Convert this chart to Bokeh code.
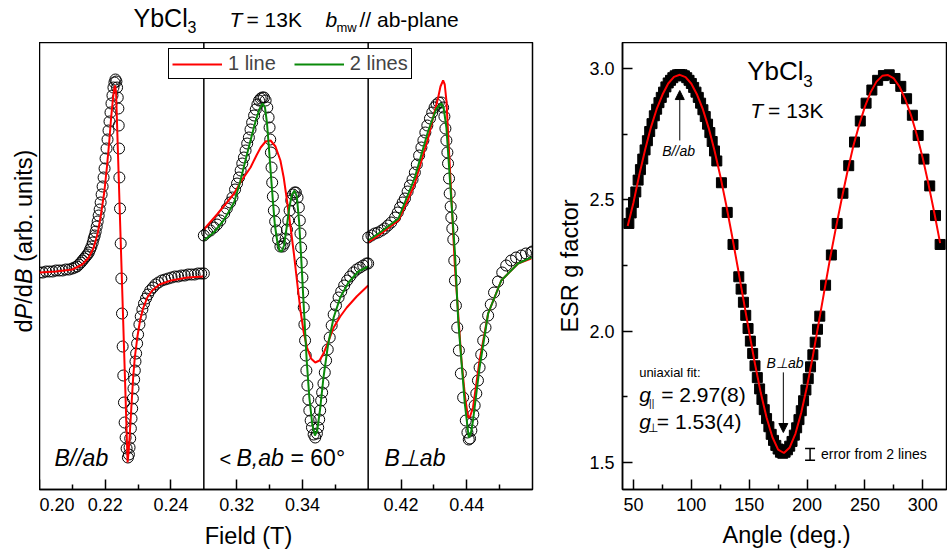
import math
from bokeh.plotting import figure
from bokeh.layouts import row, column
from bokeh.models import (Range1d, FixedTicker, Span, Label, Legend, LegendItem,
                          Arrow, NormalHead, Whisker, TeeHead, ColumnDataSource,
                          CustomJSTickFormatter, PrintfTickFormatter)
from bokeh.embed import file_html
from bokeh.resources import INLINE

FONT = "Liberation Sans"

# ------------------------------------------------------------------ data
panel_windows = [(0.20, 0.25), (0.31, 0.36), (0.41, 0.46)]
panel_major = [[0.20, 0.22, 0.24], [0.32, 0.34], [0.42, 0.44]]
panel_minor = [[0.21, 0.23], [0.33, 0.35], [0.43, 0.45]]

# panel 1 : B // ab
p1_field = [0.2000, 0.2010, 0.2020, 0.2030, 0.2040, 0.2050, 0.2060, 0.2070, 0.2080, 0.2090,
            0.2100, 0.2107, 0.2114, 0.2120, 0.2126, 0.2131, 0.2136, 0.2141, 0.2146, 0.2150,
            0.2154, 0.2158, 0.2162, 0.2165, 0.2168, 0.2171, 0.2174, 0.2177, 0.2180, 0.2183,
            0.2186, 0.2189, 0.2192, 0.2195, 0.2198, 0.2201, 0.2204, 0.2207, 0.2210, 0.2213,
            0.2216, 0.2219, 0.2222, 0.2225, 0.2228, 0.2231, 0.2234, 0.2236, 0.2238, 0.2240,
            0.2241, 0.2242, 0.2243, 0.2245, 0.2247, 0.2249, 0.2251, 0.2253, 0.2255, 0.2257,
            0.2259, 0.2262, 0.2265, 0.2269, 0.2272, 0.2274, 0.2276, 0.2278, 0.2280, 0.2282,
            0.2284, 0.2286, 0.2288, 0.2290, 0.2292, 0.2294, 0.2297, 0.2300, 0.2304, 0.2308,
            0.2313, 0.2318, 0.2324, 0.2330, 0.2337, 0.2345, 0.2353, 0.2362, 0.2372, 0.2382,
            0.2392, 0.2402, 0.2412, 0.2422, 0.2432, 0.2442, 0.2452, 0.2462, 0.2472, 0.2482,
            0.2492, 0.2500]
p1_signal = [0.00, 0.00, 0.01, 0.01, 0.01, 0.02, 0.02, 0.02, 0.03, 0.03,
             0.04, 0.05, 0.06, 0.08, 0.10, 0.12, 0.14, 0.16, 0.18, 0.20,
             0.23, 0.26, 0.30, 0.34, 0.37, 0.41, 0.46, 0.51, 0.57, 0.63,
             0.70, 0.78, 0.86, 0.95, 1.04, 1.14, 1.24, 1.33, 1.42, 1.51,
             1.60, 1.69, 1.77, 1.85, 1.90, 1.93, 1.91, 1.85, 1.75, 1.64,
             1.47, 1.24, 0.95, 0.64, 0.29, -0.06, -0.41, -0.74, -1.03, -1.30,
             -1.50, -1.65, -1.76, -1.85, -1.82, -1.75, -1.66, -1.56, -1.46, -1.36,
             -1.26, -1.16, -1.07, -0.98, -0.89, -0.81, -0.71, -0.62, -0.52, -0.44,
             -0.37, -0.31, -0.26, -0.22, -0.18, -0.15, -0.12, -0.10, -0.08, -0.07,
             -0.06, -0.05, -0.04, -0.04, -0.03, -0.03, -0.02, -0.02, -0.02, -0.01,
             -0.01, -0.01]
p1_fit1_field = [0.2000, 0.2050, 0.2100, 0.2130, 0.2150, 0.2165, 0.2177, 0.2187, 0.2197, 0.2205,
                 0.2212, 0.2218, 0.2223, 0.2227, 0.2230, 0.2233, 0.2268, 0.2271, 0.2275, 0.2280,
                 0.2285, 0.2290, 0.2298, 0.2306, 0.2315, 0.2328, 0.2343, 0.2365, 0.2400, 0.2450,
                 0.2500]
p1_fit1 = [0.00, 0.01, 0.03, 0.08, 0.15, 0.25, 0.39, 0.58, 0.80, 1.05,
           1.30, 1.55, 1.72, 1.83, 1.87, 1.80, -1.90, -1.80, -1.60, -1.32,
           -1.05, -0.85, -0.64, -0.48, -0.36, -0.25, -0.18, -0.12, -0.08, -0.05,
           -0.04]

# panel 2 : angle(B, ab) = 60 deg
p2_field = [0.3100, 0.3110, 0.3120, 0.3131, 0.3140, 0.3150, 0.3162, 0.3170, 0.3180, 0.3187,
            0.3195, 0.3201, 0.3207, 0.3212, 0.3217, 0.3222, 0.3227, 0.3232, 0.3237, 0.3242,
            0.3247, 0.3253, 0.3258, 0.3263, 0.3268, 0.3273, 0.3278, 0.3283, 0.3288, 0.3293,
            0.3297, 0.3300, 0.3302, 0.3304, 0.3306, 0.3308, 0.3310, 0.3313, 0.3317, 0.3321,
            0.3326, 0.3333, 0.3340, 0.3345, 0.3349, 0.3353, 0.3357, 0.3361, 0.3366, 0.3371,
            0.3376, 0.3380, 0.3385, 0.3389, 0.3392, 0.3394, 0.3396, 0.3398, 0.3400, 0.3402,
            0.3404, 0.3406, 0.3408, 0.3410, 0.3412, 0.3415, 0.3418, 0.3421, 0.3425, 0.3429,
            0.3434, 0.3439, 0.3444, 0.3448, 0.3451, 0.3454, 0.3457, 0.3460, 0.3464, 0.3468,
            0.3472, 0.3477, 0.3483, 0.3489, 0.3495, 0.3502, 0.3510, 0.3518, 0.3527, 0.3536,
            0.3545, 0.3555, 0.3565, 0.3575, 0.3585, 0.3595, 0.3600]
p2_signal = [0.37, 0.40, 0.42, 0.45, 0.48, 0.52, 0.59, 0.64, 0.70, 0.75,
             0.83, 0.89, 0.95, 1.02, 1.09, 1.15, 1.22, 1.29, 1.35, 1.43,
             1.50, 1.57, 1.63, 1.68, 1.72, 1.74, 1.75, 1.75, 1.72, 1.65,
             1.55, 1.45, 1.33, 1.20, 1.05, 0.90, 0.76, 0.62, 0.51, 0.42,
             0.33, 0.26, 0.26, 0.29, 0.34, 0.43, 0.52, 0.62, 0.72, 0.78,
             0.80, 0.80, 0.75, 0.65, 0.52, 0.39, 0.25, 0.10, -0.05, -0.20,
             -0.35, -0.52, -0.68, -0.83, -0.98, -1.13, -1.27, -1.38, -1.48, -1.55,
             -1.62, -1.65, -1.61, -1.55, -1.47, -1.38, -1.28, -1.20, -1.11, -1.00,
             -0.88, -0.77, -0.65, -0.53, -0.42, -0.33, -0.25, -0.19, -0.13, -0.08,
             -0.04, 0.00, 0.03, 0.05, 0.07, 0.09, 0.09]
p2_fit1_field = [0.3100, 0.3140, 0.3170, 0.3192, 0.3215, 0.3242, 0.3260, 0.3273, 0.3288, 0.3303,
                 0.3318, 0.3333, 0.3343, 0.3353, 0.3364, 0.3374, 0.3384, 0.3394, 0.3404, 0.3414,
                 0.3426, 0.3439, 0.3452, 0.3464, 0.3480, 0.3495, 0.3515, 0.3535, 0.3565, 0.3600]
p2_fit1 = [0.43, 0.58, 0.70, 0.79, 0.92, 1.05, 1.17, 1.25, 1.31, 1.32,
           1.26, 1.12, 0.95, 0.72, 0.45, 0.19, -0.10, -0.38, -0.60, -0.75,
           -0.86, -0.90, -0.88, -0.81, -0.68, -0.55, -0.44, -0.35, -0.24, -0.13]
p2_fit2_field = [0.3100, 0.3130, 0.3160, 0.3180, 0.3192, 0.3210, 0.3225, 0.3242, 0.3258, 0.3270,
                 0.3279, 0.3286, 0.3292, 0.3298, 0.3304, 0.3310, 0.3316, 0.3323, 0.3330, 0.3337,
                 0.3344, 0.3352, 0.3360, 0.3368, 0.3376, 0.3383, 0.3390, 0.3397, 0.3405, 0.3413,
                 0.3421, 0.3430, 0.3438, 0.3445, 0.3454, 0.3464, 0.3478, 0.3495, 0.3515, 0.3540,
                 0.3570, 0.3600]
p2_fit2 = [0.32, 0.40, 0.52, 0.63, 0.70, 0.90, 1.10, 1.32, 1.52, 1.64,
           1.69, 1.65, 1.50, 1.25, 0.98, 0.72, 0.48, 0.32, 0.22, 0.21,
           0.27, 0.45, 0.65, 0.78, 0.82, 0.76, 0.50, 0.10, -0.40, -0.88,
           -1.25, -1.52, -1.63, -1.58, -1.36, -1.05, -0.72, -0.45, -0.25, -0.10,
           0.01, 0.06]

# panel 3 : B perp ab
p3_field = [0.4100, 0.4110, 0.4120, 0.4130, 0.4141, 0.4150, 0.4160, 0.4170, 0.4182, 0.4190,
            0.4197, 0.4205, 0.4212, 0.4220, 0.4227, 0.4235, 0.4242, 0.4248, 0.4255, 0.4262,
            0.4268, 0.4274, 0.4280, 0.4288, 0.4295, 0.4302, 0.4308, 0.4315, 0.4323, 0.4328,
            0.4332, 0.4335, 0.4338, 0.4341, 0.4343, 0.4346, 0.4348, 0.4351, 0.4353, 0.4356,
            0.4359, 0.4362, 0.4364, 0.4367, 0.4371, 0.4376, 0.4382, 0.4389, 0.4397, 0.4402,
            0.4406, 0.4410, 0.4414, 0.4417, 0.4420, 0.4424, 0.4429, 0.4434, 0.4439, 0.4444,
            0.4450, 0.4457, 0.4465, 0.4473, 0.4483, 0.4495, 0.4508, 0.4520, 0.4535, 0.4550,
            0.4566, 0.4580, 0.4596, 0.4600]
p3_signal = [0.35, 0.37, 0.39, 0.40, 0.42, 0.44, 0.47, 0.50, 0.55, 0.60,
             0.65, 0.70, 0.74, 0.81, 0.87, 0.93, 1.00, 1.08, 1.17, 1.25,
             1.32, 1.40, 1.47, 1.54, 1.60, 1.65, 1.68, 1.70, 1.70, 1.65,
             1.56, 1.44, 1.32, 1.20, 1.09, 0.94, 0.79, 0.66, 0.55, 0.44,
             0.33, 0.12, -0.08, -0.33, -0.55, -0.78, -1.01, -1.25, -1.48, -1.60,
             -1.67, -1.66, -1.58, -1.50, -1.42, -1.33, -1.21, -1.08, -0.95, -0.82,
             -0.68, -0.55, -0.43, -0.32, -0.20, -0.09, 0.00, 0.07, 0.12, 0.15,
             0.17, 0.19, 0.20, 0.21]
p3_fit1_field = [0.4100, 0.4140, 0.4192, 0.4220, 0.4242, 0.4265, 0.4283, 0.4300, 0.4313, 0.4320,
                 0.4328, 0.4333, 0.4338, 0.4348, 0.4364, 0.4384, 0.4395, 0.4404, 0.4410, 0.4419,
                 0.4439, 0.4465, 0.4505, 0.4556, 0.4596]
p3_fit1 = [0.30, 0.39, 0.52, 0.72, 0.89, 1.15, 1.35, 1.58, 1.75, 1.86,
           1.92, 1.88, 1.72, 1.09, 0.05, -0.88, -1.25, -1.45, -1.44, -1.35,
           -0.88, -0.41, -0.08, 0.09, 0.14]
p3_fit2_field = [0.4100, 0.4140, 0.4192, 0.4242, 0.4283, 0.4308, 0.4323, 0.4330, 0.4338, 0.4353,
                 0.4364, 0.4374, 0.4394, 0.4406, 0.4413, 0.4419, 0.4439, 0.4465, 0.4505, 0.4556,
                 0.4596]
p3_fit2 = [0.32, 0.41, 0.54, 0.95, 1.42, 1.64, 1.69, 1.64, 1.45, 0.72,
           0.20, -0.48, -1.31, -1.65, -1.60, -1.48, -0.95, -0.41, -0.08, 0.09,
           0.15]

# angular dependence of the g factor
angle_obs = [46, 48, 50, 52, 54, 56, 58, 60, 62, 64, 66, 68, 70, 72, 74, 76, 78, 80, 82, 84,
             86, 88, 90, 92, 94, 96, 98, 100, 102, 104, 106, 108, 110, 112, 114, 116, 118, 120, 122,
             126, 131, 136, 141,
             143, 145, 147, 149, 151, 153, 155, 157, 159, 161, 163, 165, 167, 169, 171, 173, 175,
             177, 179, 181, 183, 185, 187, 189, 191, 193, 195, 197, 199, 201, 203, 205, 207, 209, 211,
             216, 221, 226, 231, 236, 241, 246, 251, 256, 261, 266, 271, 276, 281, 286, 291, 296,
             301, 306, 311, 315]
g_obs = [2.41, 2.45, 2.49, 2.53, 2.575, 2.615, 2.655, 2.69, 2.725, 2.76, 2.79, 2.82, 2.845, 2.87,
         2.89, 2.91, 2.93, 2.945, 2.955, 2.965, 2.972, 2.976, 2.977, 2.976, 2.972, 2.965, 2.955,
         2.943, 2.928, 2.91, 2.89, 2.868, 2.843, 2.817, 2.788, 2.756, 2.722, 2.686, 2.648,
         2.565, 2.452, 2.33, 2.207,
         2.16, 2.11, 2.06, 2.01, 1.962, 1.915, 1.868, 1.823, 1.78, 1.74, 1.701, 1.667, 1.636,
         1.607, 1.584, 1.565, 1.551, 1.539, 1.535, 1.539, 1.548, 1.562, 1.58, 1.604, 1.632,
         1.663, 1.697, 1.735, 1.776, 1.819, 1.864, 1.91, 1.958, 2.007, 2.057,
         2.175, 2.29, 2.41, 2.525, 2.63, 2.72, 2.80, 2.868, 2.918, 2.955, 2.973, 2.976, 2.962,
         2.932, 2.885, 2.822, 2.745, 2.655, 2.553, 2.44, 2.33]
angle_fit = [45, 50, 55, 60, 65, 70, 75, 80, 85, 90, 95, 100, 105, 110, 115, 120, 125, 130, 135,
             140, 145, 150, 155, 160, 165, 170, 175, 180, 185, 190, 195, 200, 205, 210, 215, 220,
             225, 230, 235, 240, 245, 250, 255, 260, 265, 270, 275, 280, 285, 290, 295, 300, 305,
             310, 315]
g_fit = [2.40, 2.49, 2.595, 2.69, 2.775, 2.845, 2.90, 2.943, 2.968, 2.976, 2.967, 2.942, 2.90,
         2.844, 2.773, 2.688, 2.591, 2.483, 2.367, 2.245, 2.12, 1.995, 1.875, 1.765, 1.671, 1.597,
         1.549, 1.536, 1.557, 1.61, 1.69, 1.79, 1.905, 2.03, 2.155, 2.28, 2.395, 2.505, 2.61,
         2.705, 2.785, 2.855, 2.91, 2.95, 2.972, 2.975, 2.962, 2.93, 2.882, 2.82, 2.745, 2.658,
         2.558, 2.45, 2.335]
err_angle = [202.6]
err_low = [1.508]
err_high = [1.553]

# ------------------------------------------------------------------ helpers
def txt(p, x, y, text, size, style="normal", align="left", angle=0.0):
    # y (or x for rotated text) is the vertical middle of the text
    p.add_layout(Label(x=x, y=y, text=text, text_font=FONT, text_font_size=f"{size}px",
                       text_font_style=style, text_align=align, text_baseline="middle",
                       angle=angle, text_color="black"))


def style_axis(ax):
    ax.axis_line_width = 1.5
    ax.major_tick_line_width = 1.5
    ax.minor_tick_line_width = 1.5
    ax.major_tick_in = 10
    ax.major_tick_out = 0
    ax.minor_tick_in = 5
    ax.minor_tick_out = 0
    ax.major_label_text_font = FONT
    ax.major_label_text_font_size = "18px"
    ax.major_label_text_color = "black"
    ax.major_label_standoff = 8


def strip(width, height, x_range, y_range):
    s = figure(width=width, height=height, x_range=x_range, y_range=y_range,
               x_axis_location=None, y_axis_location=None, output_backend="svg",
               toolbar_location=None, min_border=0)
    s.min_border_left = s.min_border_right = s.min_border_top = s.min_border_bottom = 0
    s.grid.grid_line_color = None
    s.outline_line_color = None
    return s


TOTAL_W = 947
TOP_H = 42          # page rows 0..42
FRAME_H = 447       # 42..489
BOT_B = 32          # tick labels under the frames
BOTTOM_H = 29       # axis titles strip

# ------------------------------------------------------------------ left spectra figure
W = panel_windows[0][1] - panel_windows[0][0]
starts = [lo - k * W for k, (lo, hi) in enumerate(panel_windows)]
shifts = [s - starts[0] for s in starts]

pL = figure(width=513, height=FRAME_H + BOT_B,
            x_range=Range1d(starts[0], starts[0] + 3 * W), y_range=Range1d(-2.17, 2.30),
            y_axis_location=None, output_backend="svg", toolbar_location=None,
            min_border_left=0, min_border_right=20, min_border_top=0, min_border_bottom=BOT_B)
pL.extra_x_ranges = {"p2": Range1d(starts[1], starts[1] + 3 * W),
                     "p3": Range1d(starts[2], starts[2] + 3 * W)}
pL.grid.grid_line_color = None
pL.outline_line_color = "black"
pL.outline_line_width = 1.5
pL.outline_line_alpha = 1.0

major_pos, major_lab, minor_pos = [], [], []
for k in range(3):
    for t in panel_major[k]:
        major_pos.append(round(t - shifts[k], 6))
        major_lab.append(f"{t:.2f}")
    for t in panel_minor[k]:
        minor_pos.append(round(t - shifts[k], 6))
ax = pL.xaxis[0]
ax.ticker = FixedTicker(ticks=major_pos, minor_ticks=minor_pos)
ax.formatter = CustomJSTickFormatter(args=dict(pos=major_pos, lab=major_lab), code="""
    let best = 0, d = 1e9;
    for (let i = 0; i < pos.length; i++) {
        const e = Math.abs(pos[i] - tick);
        if (e < d) { d = e; best = i; }
    }
    return lab[best];
""")
style_axis(ax)

for k in (1, 2):
    pL.add_layout(Span(location=starts[0] + k * W, dimension="height",
                       line_color="black", line_width=1.5))

circ = dict(marker="circle", size=11, fill_color=None, line_color="black", line_width=1)
pL.scatter(p1_field, p1_signal, **circ)
pL.scatter(p2_field, p2_signal, x_range_name="p2", **circ)
pL.scatter(p3_field, p3_signal, x_range_name="p3", **circ)

RED = "#ff0000"
GREEN = "#0a8a0a"
r1 = pL.line(p1_fit1_field, p1_fit1, line_color=RED, line_width=2)
pL.line(p2_fit1_field, p2_fit1, line_color=RED, line_width=2, x_range_name="p2")
g2 = pL.line(p2_fit2_field, p2_fit2, line_color=GREEN, line_width=2, x_range_name="p2")
pL.line(p3_fit1_field, p3_fit1, line_color=RED, line_width=2, x_range_name="p3")
pL.line(p3_fit2_field, p3_fit2, line_color=GREEN, line_width=2, x_range_name="p3")

legend = Legend(items=[LegendItem(label="1 line", renderers=[r1]),
                       LegendItem(label="2 lines", renderers=[g2])],
                location=(129, 410), orientation="horizontal",
                border_line_color="black", border_line_width=1, border_line_alpha=1,
                background_fill_color="white", background_fill_alpha=1,
                padding=3, margin=0, spacing=18, glyph_width=50, glyph_height=22,
                label_standoff=6, label_text_font=FONT, label_text_font_size="20px",
                label_height=22)
pL.add_layout(legend)


def xl(px):
    return starts[0] + (px - 39) * 3 * W / 493


def yl(py):
    return (272 - py) / 100.0


# panel captions (middle of the text at page row 457)
txt(pL, xl(54), yl(457), "B//ab", 23, "italic")
txt(pL, xl(219), yl(458), "<", 20)
txt(pL, xl(236), yl(457), "B,ab", 23, "italic")
txt(pL, xl(290), yl(457), "= 60°", 23)
txt(pL, xl(384), yl(457), "B\u22a5ab", 23, "italic")

# ------------------------------------------------------------------ y label strip (left)
pY = strip(39, FRAME_H + BOT_B, Range1d(0, 39), pL.y_range)
pY.min_border_bottom = BOT_B
rot = math.pi / 2
for ypx, piece, st in [(332, "d", "normal"), (318.9, "P", "italic"), (303.2, "/d", "normal"),
                       (283.6, "B", "italic"), (261.4, "(arb. units)", "normal")]:
    txt(pY, 23, yl(ypx), piece, 23.5, st, angle=rot)

# ------------------------------------------------------------------ right g-factor figure
pR = figure(width=TOTAL_W - 39 - 513, height=FRAME_H + BOT_B,
            x_range=Range1d(40.5, 320.5), y_range=Range1d(1.397, 3.099),
            output_backend="svg", toolbar_location=None,
            min_border_left=70, min_border_right=1, min_border_top=0, min_border_bottom=BOT_B)
pR.grid.grid_line_color = None
pR.outline_line_color = "black"
pR.outline_line_width = 1.5
pR.outline_line_alpha = 1.0
pR.xaxis.ticker = FixedTicker(ticks=[50, 100, 150, 200, 250, 300],
                              minor_ticks=[75, 125, 175, 225, 275])
pR.yaxis.ticker = FixedTicker(ticks=[1.5, 2.0, 2.5, 3.0], minor_ticks=[1.75, 2.25, 2.75])
pR.yaxis.formatter = PrintfTickFormatter(format="%.1f")
style_axis(pR.xaxis[0])
style_axis(pR.yaxis[0])
pR.yaxis.axis_label = "ESR g factor"
pR.yaxis.axis_label_text_font = FONT
pR.yaxis.axis_label_text_font_size = "23.5px"
pR.yaxis.axis_label_text_font_style = "normal"
pR.yaxis.axis_label_text_color = "black"
pR.yaxis.axis_label_standoff = 3

pR.scatter(angle_obs, g_obs, marker="square", size=10, fill_color="black", line_color="black")
pR.line(angle_fit, g_fit, line_color=RED, line_width=2)

err_src = ColumnDataSource(dict(base=err_angle, lower=err_low, upper=err_high))
pR.add_layout(Whisker(base="base", lower="lower", upper="upper", source=err_src,
                      dimension="height", line_width=1.5, line_color="black",
                      upper_head=TeeHead(size=10, line_width=1.5, line_color="black"),
                      lower_head=TeeHead(size=10, line_width=1.5, line_color="black")))

pR.add_layout(Arrow(end=NormalHead(size=9, fill_color="black", line_color="black"),
                    x_start=90, y_start=2.726, x_end=90, y_end=2.916,
                    line_width=1, line_color="black"))
pR.add_layout(Arrow(end=NormalHead(size=9, fill_color="black", line_color="black"),
                    x_start=179.5, y_start=1.843, x_end=179.5, y_end=1.614,
                    line_width=1, line_color="black"))

txt(pR, 148.3, 2.989, "YbCl", 26)
txt(pR, 196.7, 2.954, "3", 17)
txt(pR, 150.8, 2.841, "T", 21, "italic")
txt(pR, 166.3, 2.841, "= 13K", 21)
txt(pR, 89.0, 2.687, "B//ab", 14, "italic", align="center")
txt(pR, 181.0, 1.880, "B\u22a5ab", 14, "italic", align="center")
txt(pR, 54.9, 1.841, "uniaxial fit:", 13)
txt(pR, 54.9, 1.760, "g", 21, "italic")
txt(pR, 63.5, 1.726, "||", 10)
txt(pR, 73.9, 1.760, "= 2.97(8)", 21)
txt(pR, 54.9, 1.657, "g", 21, "italic")
txt(pR, 62.7, 1.630, "\u22a5", 12)
txt(pR, 70.2, 1.657, "= 1.53(4)", 21)
txt(pR, 212.0, 1.533, "error from 2 lines", 14)

# ------------------------------------------------------------------ top strip (title)
pT = strip(TOTAL_W, TOP_H, Range1d(0, TOTAL_W), Range1d(0, TOP_H))
for xpx, ypx, piece, size, st in [(133, 17.3, "YbCl", 25, "normal"), (187, 26.4, "3", 16, "normal"),
                                  (229, 18.7, "T", 21, "italic"), (246, 18.7, "= 13K", 21, "normal"),
                                  (325, 18.7, "b", 21, "italic"), (336, 27.2, "mw", 13, "normal"),
                                  (359, 18.7, "// ab-plane", 21, "normal")]:
    txt(pT, xpx, TOP_H - ypx, piece, size, st)

# ------------------------------------------------------------------ bottom strip (x titles)
BOT_TOP = TOP_H + FRAME_H + BOT_B
pB = strip(TOTAL_W, BOTTOM_H, Range1d(0, TOTAL_W), Range1d(0, BOTTOM_H))
txt(pB, 248, BOT_TOP + BOTTOM_H - 535, "Field (T)", 23.5, align="center")
txt(pB, 786, BOT_TOP + BOTTOM_H - 534, "Angle (deg.)", 23.5, align="center")

layout = column(pT, row(pY, pL, pR), pB)
open("out.html", "w").write(file_html(layout, INLINE))
